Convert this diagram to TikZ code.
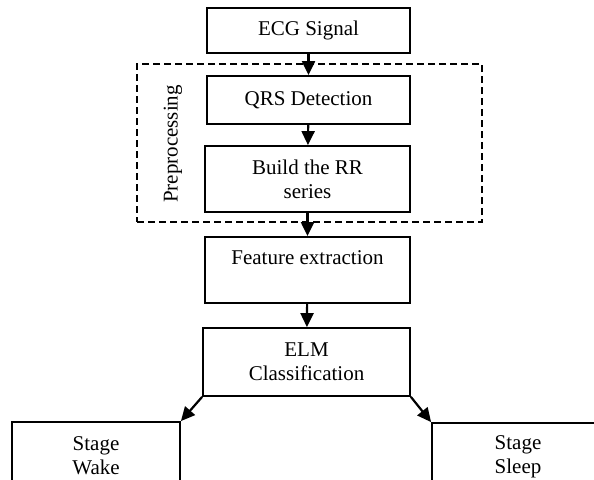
\documentclass[tikz,border=0pt]{standalone}
\usepackage{fontspec}
\setmainfont{Liberation Serif}
\usetikzlibrary{arrows.meta}
\tikzset{
  stepbox/.style={draw, line width=1.8pt, align=center, inner sep=0pt,
    font=\fontsize{21}{24}\selectfont},
  flow/.style={line width=2.2pt, -{Triangle[length=14pt,width=13pt]}}
}
\begin{document}
\begin{tikzpicture}[x=1pt,y=-1pt]
\useasboundingbox (0,0) rectangle (594,479);
\clip (0,0) rectangle (594,479);
\node[draw, line width=1.3pt, dash pattern=on 7pt off 4pt,
  minimum width=345pt, minimum height=158pt] (prep) at (309.5,143) {};
\node[rotate=90, font=\fontsize{21}{24}\selectfont] (preplabel) at (173,144) {Preprocessing};
\node[stepbox, minimum width=203pt, minimum height=45pt] (ecg) at (308.5,30.5) {ECG Signal};
\node[stepbox, minimum width=203pt, minimum height=48pt] (qrs) at (308.5,100) {QRS Detection};
\node[stepbox, minimum width=205pt, minimum height=66pt] (rr) at (307.5,179) {Build the RR\\series};
\node[stepbox, minimum width=205pt, minimum height=66pt] (feat) at (307.5,270) {Feature extraction\\~};
\node[stepbox, minimum width=207pt, minimum height=68pt] (elm) at (306.5,362) {ELM\\Classification};
\node[stepbox, minimum width=168pt, minimum height=68pt] (wake) at (96,456) {Stage\\Wake};
\node[stepbox, minimum width=172pt, minimum height=68pt] (sleep) at (518,457) {Stage\\Sleep};
\draw[flow] (ecg) -- (qrs);
\draw[flow] (qrs) -- (rr);
\draw[flow] (rr) -- (feat);
\draw[flow] (feat) -- (elm);
\draw[flow] (elm.south west) -- (wake.north east);
\draw[flow] (elm.south east) -- (sleep.north west);
\end{tikzpicture}
\end{document}
